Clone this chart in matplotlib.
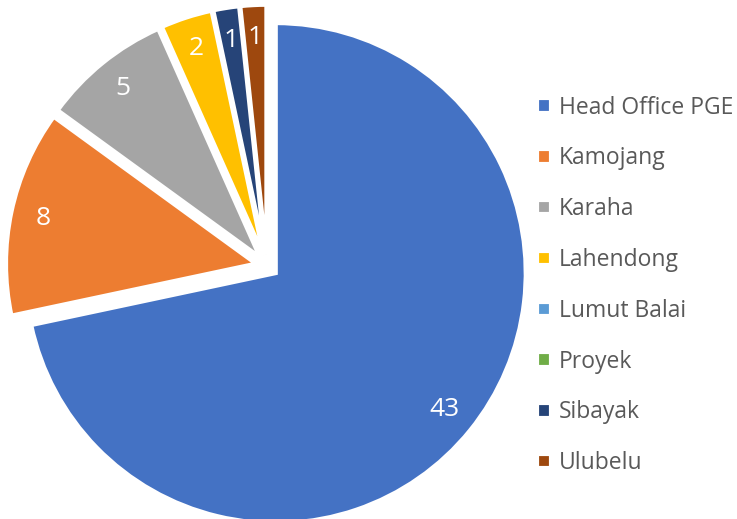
import matplotlib.pyplot as plt

plt.rcParams['font.family'] = ['Open Sans', 'DejaVu Sans']

labels = ["Head Office PGE", "Kamojang", "Karaha", "Lahendong",
          "Lumut Balai", "Proyek", "Sibayak", "Ulubelu"]
values = [43, 8, 5, 2, 0, 0, 1, 1]
colors = ["#4472C4", "#ED7D31", "#A5A5A5", "#FFC000",
          "#5B9BD5", "#70AD47", "#264478", "#9E480E"]

W, H = 737, 519
fig = plt.figure(figsize=(W / 100, H / 100), dpi=100)

# pie centre / radius in pixels
cx, cy, R = 267, 266, 250
lim = 1.15
size = 2 * lim * R
ax = fig.add_axes([(cx - size / 2) / W, (H - cy - size / 2) / H, size / W, size / H])

total = sum(values)


def fmt(p):
    v = round(p * total / 100)
    return f"{v}" if v > 0 else ""


wedges, texts, autotexts = ax.pie(
    values, colors=colors, startangle=90, counterclock=False,
    explode=[0.045] * len(values), autopct=fmt, pctdistance=0.87,
    wedgeprops=dict(edgecolor="white", linewidth=3),
    textprops=dict(color="white", fontsize=19))

ax.set_xlim(-lim, lim)
ax.set_ylim(-lim, lim)
ax.set_aspect("equal")
ax.axis("off")

leg = fig.legend(wedges, labels, loc="center left", bbox_to_anchor=(0.701, 0.45),
                 frameon=False, fontsize=16.5, labelcolor="#595959",
                 handlelength=0.6, handleheight=0.6, handletextpad=0.35,
                 labelspacing=1.17)

fig.savefig("out.png", dpi=100)
